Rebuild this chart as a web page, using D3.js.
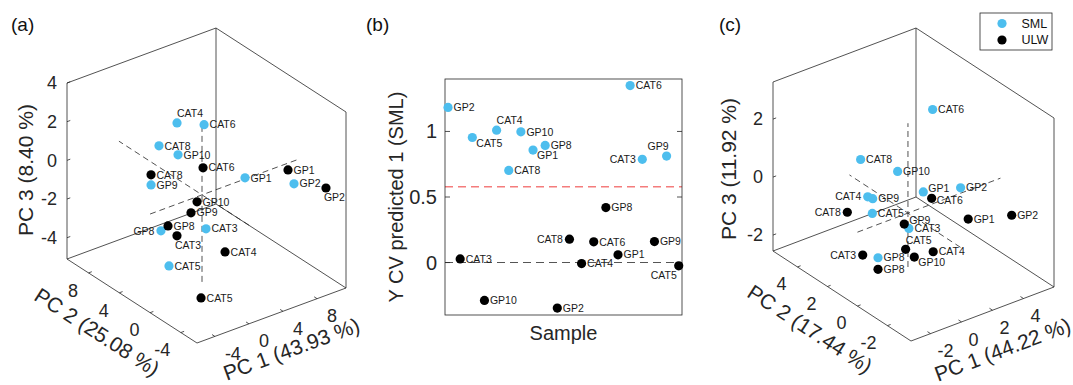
<!DOCTYPE html>
<html lang="en">
<head>
<meta charset="UTF-8">
<title>PCA / PLS-DA</title>
<script src="https://d3js.org/d3.v7.min.js"></script>
<style>
    body { margin: 0; background: #fff; }
    svg { display: block; font-family: "Liberation Sans", Arial, sans-serif; }
    .pt-label { font-size: 10.5px; fill: #1a1a1a; }
    .tick-label { fill: #262626; }
    .axis-label { fill: #262626; }
</style>
</head>
<body>
<svg id="chart" width="1073" height="385"></svg>
<script>
// samples and groups
const samples = ["CAT3", "CAT4", "CAT5", "CAT6", "CAT8", "GP1", "GP2", "GP8", "GP9", "GP10"];
const groups = ["SML", "ULW"];
const groupColors = ["#4DBEEE", "#000000"];

// (a) PCA scores, same sample order
const aSmlPC1 = [0.47, -1.13, -2.07, 0.24, -1.44, 5.05, 9.9, 0.6, -1.47, -1.01];
const aSmlPC2 = [0, 2, 2, 0, 4, 0, -1, 6, 5, 2];
const aSmlPC3 = [-1.83, 3.39, -3.85, 3.59, 1.74, 0.06, -0.78, -3.5, -0.53, 1.72];
const aUlwPC1 = [-0.23, 0.9, -1.92, 0.12, -1.47, 10.1, 10.04, -0.38, -0.39, 0.32];
const aUlwPC2 = [3, -2, -2, 0, 5, 0, -5, 4, 1, 1];
const aUlwPC3 = [-2.85, -2.58, -4.5, 1.38, -0.01, -0.35, 0.01, -2.57, -1.12, -0.67];
const aAxisTitles = ["PC 1 (43.93 %)", "PC 2 (25.08 %)", "PC 3 (8.40 %)"];
const aTicks1 = [-4, 0, 4, 8];
const aTicks2 = [-4, 0, 4, 8];
const aTicks3 = [-4, -2, 0, 2, 4];

// (b) Y CV predicted, x = sample position
const bSmlPos = [17, 5, 3, 16, 6, 8, 1, 9, 19, 7];
const bSmlY = [0.787, 1.01, 0.954, 1.35, 0.703, 0.858, 1.183, 0.893, 0.812, 0.997];
const bUlwPos = [2, 12, 20, 13, 11, 15, 10, 14, 18, 4];
const bUlwY = [0.028, -0.008, -0.025, 0.158, 0.178, 0.059, -0.347, 0.419, 0.16, -0.289];
const bThreshold = 0.578;
const bTicks = [0, 0.5, 1];

// (c) PCA scores
const cSmlPC1 = [0.06, -0.66, 0.12, 2.56, -1.12, 0.99, 2.43, -0.48, -0.34, 0.30];
const cSmlPC2 = [0, 2, 2.5, 1, 2, 0, -1, 1.5, 2, 1];
const cSmlPC3 = [-0.54, 0.02, -0.88, 2.72, 1.40, 0.53, 0.72, -1.95, -0.11, 1.04];
const cUlwPC1 = [-0.5, 0.66, -0.15, 1.53, -1.01, 2.92, 4.76, -0.48, -0.24, 0.41];
const cUlwPC2 = [2.5, -1, 0, 0, 3, -1, -2, 1.5, 0, 0];
const cUlwPC3 = [-2.19, -1.13, -1.22, 0.2, -0.78, -0.46, -0.36, -2.35, -0.33, -1.6];
const cAxisTitles = ["PC 1 (44.22 %)", "PC 2 (17.44 %)", "PC 3 (11.92 %)"];
const cTicks1 = [-2, 0, 2, 4];
const cTicks2 = [-2, 0, 2, 4];
const cTicks3 = [-2, 0, 2];

// where each point label sits relative to its dot
const aSmlSide = ["r", "tr", "r", "r", "r", "r", "r", "l", "r", "r"];
const aUlwSide = ["b", "r", "r", "r", "r", "r", "b", "r", "r", "r"];
const bSmlSide = ["l", "tr", "br", "r", "r", "br", "r", "r", "tl", "r"];
const bUlwSide = ["r", "r", "bl", "r", "l", "r", "r", "r", "r", "r"];
const cSmlSide = ["r", "l", "r", "r", "r", "ur", "r", "r", "r", "r"];
const cUlwSide = ["l", "r", "tr", "dr", "l", "r", "r", "r", "ur", "br"];

const sideOffset = {
    r:  { anchor: "start", dx: 5.5, dy: 0 },
    ur: { anchor: "start", dx: 5, dy: -4 },
    dr: { anchor: "start", dx: 5, dy: 1.5 },
    l:  { anchor: "end", dx: -6.5, dy: 0 },
    tr: { anchor: "start", dx: 0, dy: -9.5 },
    tl: { anchor: "end", dx: 2, dy: -10 },
    br: { anchor: "start", dx: 4, dy: 5.5 },
    bl: { anchor: "end", dx: -2, dy: 9.5 },
    b:  { anchor: "start", dx: -2, dy: 9.5 }
};

const svg = d3.select("#chart");
svg.append("rect").attr("width", 1073).attr("height", 385).attr("fill", "#fff");

const R = 4.6;
const lineCol = "#262626";

function addLabel(g, x, y, text, side) {
    const o = sideOffset[side];
    g.append("text")
        .attr("class", "pt-label")
        .attr("x", x + o.dx)
        .attr("y", y + o.dy)
        .attr("dy", "0.35em")
        .attr("text-anchor", o.anchor)
        .text(text);
}

// ---------- 3D panels ----------
function draw3D(cfg, sets) {
    const g = svg.append("g");
    const fx = d3.scaleLinear().domain(cfg.xDomain).range([0, 1]);
    const fy = d3.scaleLinear().domain(cfg.yDomain).range([0, 1]);
    const fz = d3.scaleLinear().domain(cfg.zDomain).range([0, 1]);
    const P = (x, y, z) => {
        const a = fx(x), b = fy(y), c = fz(z);
        return [cfg.front[0] + a * cfg.ex[0] + b * cfg.ey[0] + c * cfg.ez[0],
                cfg.front[1] + a * cfg.ex[1] + b * cfg.ey[1] + c * cfg.ez[1]];
    };
    const [x0, x1] = cfg.xDomain, [y0, y1] = cfg.yDomain, [z0, z1] = cfg.zDomain;
    const line = (p, q, dash) => g.append("line")
        .attr("x1", p[0]).attr("y1", p[1]).attr("x2", q[0]).attr("y2", q[1])
        .attr("stroke", lineCol).attr("stroke-width", 0.8)
        .attr("stroke-dasharray", dash || null);

    // box (back edges + the two floor axes)
    const edges = [
        [[x0, y1, z0], [x0, y1, z1]],
        [[x1, y0, z0], [x1, y0, z1]],
        [[x1, y1, z0], [x1, y1, z1]],
        [[x0, y1, z1], [x1, y1, z1]],
        [[x1, y1, z1], [x1, y0, z1]],
        [[x0, y0, z0], [x1, y0, z0]],
        [[x0, y0, z0], [x0, y1, z0]],
        [[x0, y1, z0], [x1, y1, z0]],
        [[x1, y0, z0], [x1, y1, z0]]
    ];
    edges.forEach(e => line(P(...e[0]), P(...e[1])));

    // dashed zero lines
    line(P(cfg.dashX[0], 0, 0), P(cfg.dashX[1], 0, 0), "6,4");
    line(P(0, cfg.dashY[0], 0), P(0, cfg.dashY[1], 0), "6,4");
    line(P(0, 0, cfg.dashZ[0]), P(0, 0, cfg.dashZ[1]), "6,4");

    const tl = 0.022;
    // PC1 ticks
    cfg.ticks1.forEach(t => {
        const p = P(t, y0, z0), q = P(t, y0 + tl * (y1 - y0), z0);
        line(p, q);
        g.append("text").attr("class", "tick-label")
            .attr("x", p[0] + cfg.t1Off[0]).attr("y", p[1] + cfg.t1Off[1])
            .attr("dy", "0.35em").attr("font-size", 18).text(t);
    });
    // PC2 ticks
    cfg.ticks2.forEach(t => {
        const p = P(x0, t, z0), q = P(x0 + tl * (x1 - x0), t, z0);
        line(p, q);
        g.append("text").attr("class", "tick-label")
            .attr("x", p[0] + cfg.t2Off[0]).attr("y", p[1] + cfg.t2Off[1])
            .attr("dy", "0.35em").attr("text-anchor", "end").attr("font-size", 18).text(t);
    });
    // PC3 ticks
    cfg.ticks3.forEach(t => {
        const p = P(x0, y1, t), q = P(x0 + tl * (x1 - x0), y1, t);
        line(p, q);
        g.append("text").attr("class", "tick-label")
            .attr("x", p[0] - 10).attr("y", p[1])
            .attr("dy", "0.35em").attr("text-anchor", "end").attr("font-size", 18).text(t);
    });

    // axis titles
    const e1a = P(x0, y0, z0), e1b = P(x1, y0, z0), e2b = P(x0, y1, z0);
    const ang1 = Math.atan2(e1b[1] - e1a[1], e1b[0] - e1a[0]) * 180 / Math.PI;
    const ang2 = Math.atan2(e1a[1] - e2b[1], e1a[0] - e2b[0]) * 180 / Math.PI;
    const m1 = [(e1a[0] + e1b[0]) / 2 + cfg.l1Off[0], (e1a[1] + e1b[1]) / 2 + cfg.l1Off[1]];
    const m2 = [(e1a[0] + e2b[0]) / 2 + cfg.l2Off[0], (e1a[1] + e2b[1]) / 2 + cfg.l2Off[1]];
    const title = (pos, ang, txt) => g.append("text").attr("class", "axis-label")
        .attr("transform", `translate(${pos[0]},${pos[1]}) rotate(${ang})`)
        .attr("text-anchor", "middle").attr("dy", "0.35em").attr("font-size", 21).text(txt);
    title(m1, ang1, cfg.titles[0]);
    title(m2, ang2, cfg.titles[1]);
    title(cfg.l3Pos, -90, cfg.titles[2]);

    // points
    sets.forEach((s, gi) => {
        samples.forEach((name, i) => {
            const p = P(s.pc1[i], s.pc2[i], s.pc3[i]);
            g.append("circle").attr("cx", p[0]).attr("cy", p[1]).attr("r", R)
                .attr("fill", groupColors[gi]);
        });
        samples.forEach((name, i) => {
            const p = P(s.pc1[i], s.pc2[i], s.pc3[i]);
            addLabel(g, p[0], p[1], name, s.side[i]);
        });
    });
}

draw3D({
    front: [197, 343], ex: [149, -55], ey: [-130, -84], ez: [0, -176],
    xDomain: [-6.1, 11.4], yDomain: [-6.1, 10.8], zDomain: [-5.1, 4],
    dashX: [-6.1, 11.4], dashY: [-6.1, 10.8], dashZ: [-4.5, 3.5],
    ticks1: aTicks1, ticks2: aTicks2, ticks3: aTicks3,
    t1Off: [10, 17], t2Off: [-10.5, 17.5],
    l1Off: [20, 33.5], l2Off: [-35, 31], l3Pos: [26, 170],
    titles: aAxisTitles
}, [
    { pc1: aSmlPC1, pc2: aSmlPC2, pc3: aSmlPC3, side: aSmlSide },
    { pc1: aUlwPC1, pc2: aUlwPC2, pc3: aUlwPC3, side: aUlwSide }
]);

draw3D({
    front: [911, 341], ex: [143, -54], ey: [-138, -90], ez: [0, -169],
    xDomain: [-3.26, 5.97], yDomain: [-3.57, 5.63], zDomain: [-2.55, 3.28],
    dashX: [-3.26, 5.97], dashY: [-3.5, 3.9], dashZ: [-1.86, 3.1],
    ticks1: cTicks1, ticks2: cTicks2, ticks3: cTicks3,
    t1Off: [7, 17.5], t2Off: [-11, 17],
    l1Off: [20, 35.5], l2Off: [-32, 33], l3Pos: [729, 169],
    titles: cAxisTitles
}, [
    { pc1: cSmlPC1, pc2: cSmlPC2, pc3: cSmlPC3, side: cSmlSide },
    { pc1: cUlwPC1, pc2: cUlwPC2, pc3: cUlwPC3, side: cUlwSide }
]);

// ---------- (b) scatter ----------
const gb = svg.append("g");
const bx = d3.scaleLinear().domain([0.75, 20.27]).range([445, 682]);
const by = d3.scaleLinear().domain([-0.4, 1.4]).range([315, 79]);

gb.append("line").attr("x1", bx.range()[0]).attr("x2", bx.range()[1])
    .attr("y1", by(0)).attr("y2", by(0))
    .attr("stroke", "#555").attr("stroke-width", 1.1).attr("stroke-dasharray", "8,5");
gb.append("line").attr("x1", bx.range()[0]).attr("x2", bx.range()[1])
    .attr("y1", by(bThreshold)).attr("y2", by(bThreshold))
    .attr("stroke", "#F47C7C").attr("stroke-width", 1.3).attr("stroke-dasharray", "8,5");

gb.append("rect").attr("x", 445).attr("y", 79).attr("width", 237).attr("height", 236)
    .attr("fill", "none").attr("stroke", lineCol).attr("stroke-width", 0.8);

bTicks.forEach(t => {
    gb.append("line").attr("x1", 445).attr("x2", 450).attr("y1", by(t)).attr("y2", by(t))
        .attr("stroke", lineCol).attr("stroke-width", 0.8);
    gb.append("line").attr("x1", 682).attr("x2", 677).attr("y1", by(t)).attr("y2", by(t))
        .attr("stroke", lineCol).attr("stroke-width", 0.8);
    gb.append("text").attr("class", "tick-label").attr("x", 437).attr("y", by(t))
        .attr("dy", "0.35em").attr("text-anchor", "end").attr("font-size", 20).text(t);
});

gb.append("text").attr("class", "axis-label")
    .attr("transform", `translate(396,${by(0.5)})rotate(-90)`)
    .attr("text-anchor", "middle").attr("dy", "0.35em").attr("font-size", 20)
    .text("Y CV predicted 1 (SML)");
gb.append("text").attr("class", "axis-label")
    .attr("x", (445 + 682) / 2).attr("y", 340)
    .attr("text-anchor", "middle").attr("font-size", 20).text("Sample");

[{ pos: bSmlPos, y: bSmlY, side: bSmlSide }, { pos: bUlwPos, y: bUlwY, side: bUlwSide }]
    .forEach((s, gi) => {
        samples.forEach((name, i) => {
            gb.append("circle").attr("cx", bx(s.pos[i])).attr("cy", by(s.y[i])).attr("r", R)
                .attr("fill", groupColors[gi]);
        });
        samples.forEach((name, i) => addLabel(gb, bx(s.pos[i]), by(s.y[i]), name, s.side[i]));
    });

// ---------- panel tags ----------
[["(a)", 11], ["(b)", 366], ["(c)", 719]].forEach(([t, x]) => {
    svg.append("text").attr("x", x).attr("y", 31).attr("font-size", 19)
        .attr("fill", "#111").text(t);
});

// ---------- legend ----------
const lg = svg.append("g");
lg.append("rect").attr("x", 980).attr("y", 13).attr("width", 72).attr("height", 37)
    .attr("fill", "#fff").attr("stroke", lineCol).attr("stroke-width", 0.8);
groups.forEach((name, i) => {
    const yy = 23.5 + i * 16.5;
    lg.append("circle").attr("cx", 1002).attr("cy", yy).attr("r", R).attr("fill", groupColors[i]);
    lg.append("text").attr("x", 1021.5).attr("y", yy).attr("dy", "0.35em")
        .attr("font-size", 12.5).attr("fill", "#111").text(name);
});
</script>
</body>
</html>
